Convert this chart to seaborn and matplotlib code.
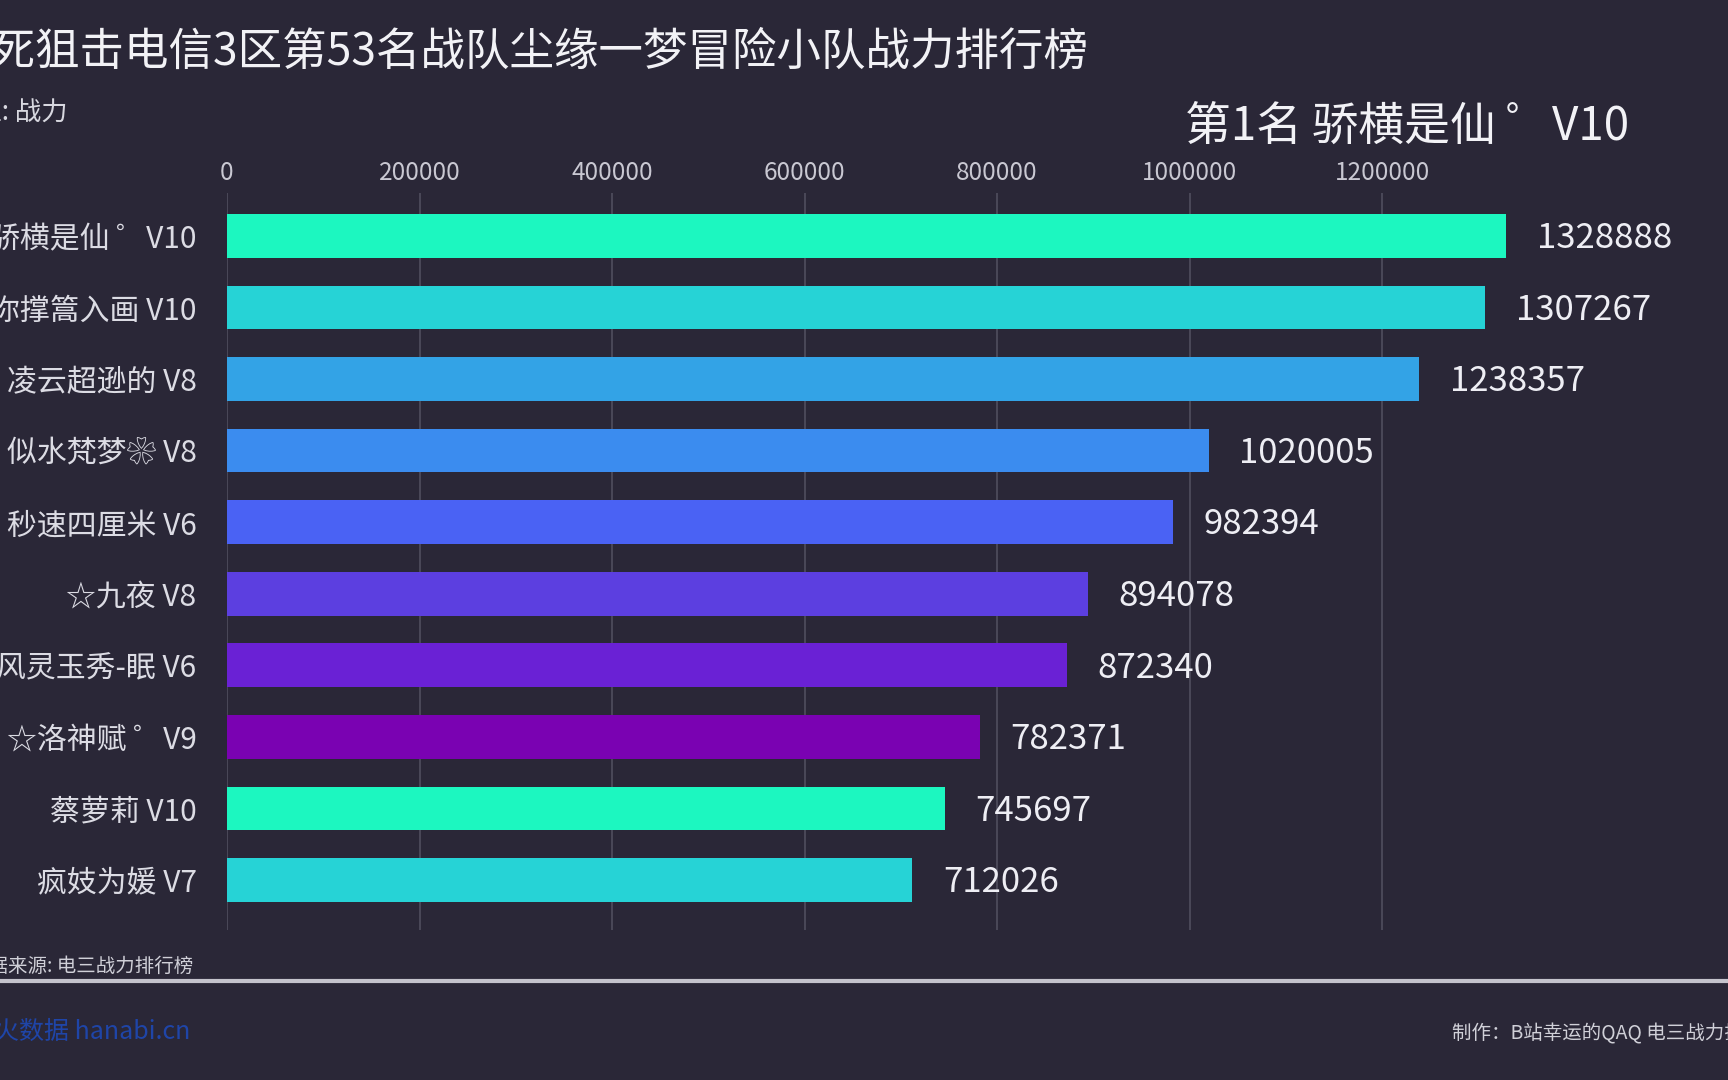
import matplotlib
matplotlib.use("Agg")
import matplotlib.pyplot as plt
import seaborn as sns
import pandas as pd

names = ["骄横是仙 ゜V10", "你撑篙入画 V10", "凌云超逊的 V8", "似水梵梦❀ V8", "秒速四厘米 V6",
         "☆九夜 V8", "风灵玉秀-眠 V6", "☆洛神赋 ゜V9", "蔡萝莉 V10", "疯妓为媛 V7"]
power = [1328888, 1307267, 1238357, 1020005, 982394, 894078, 872340, 782371, 745697, 712026]
bar_colors = ["#1cf7c0", "#26d3d6", "#33a3e6", "#3b8cef", "#4a62f4",
              "#5c3fe0", "#6a21d5", "#7a02b2", "#1cf7c0", "#26d3d6"]
xticks = [0, 200000, 400000, 600000, 800000, 1000000, 1200000]

title = "生死狙击电信3区第53名战队尘缘一梦冒险小队战力排行榜"
unit = "单位: 战力"
leader = "第1名 骄横是仙 ゜V10"
source = "数据来源: 电三战力排行榜"
credit = "制作：B站幸运的QAQ 电三战力排行榜"

bg = "#2a2737"
df = pd.DataFrame({"name": names, "power": power})

sns.set_theme(style="dark")
plt.rcParams['font.family'] = ['Noto Sans CJK SC', 'DejaVu Sans']

fig = plt.figure(figsize=(17.28, 10.8), dpi=100, facecolor=bg)
ax = fig.add_axes([0.1314, 0.1389, 0.8356, 0.6824])
ax.set_facecolor(bg)

sns.barplot(data=df, y="name", x="power", hue="name", palette=bar_colors,
            legend=False, width=0.61, saturation=1, linewidth=0, ax=ax, zorder=3)

ax.set_xlim(0, 1500000)
ax.set_ylim(9.70, -0.60)
ax.set_xticks(xticks)
ax.set_xticklabels([str(t) for t in xticks])
ax.xaxis.tick_top()
ax.tick_params(axis="x", length=0, pad=5, labelsize=17.5, labelcolor="#c9c8d2")
ax.tick_params(axis="y", length=0, pad=22, labelsize=21.5, labelcolor="#dcdce4")
ax.grid(axis="x", color="#4d4b5b", linewidth=1.3, zorder=0)
ax.grid(axis="y", visible=False)
ax.set_xlabel("")
ax.set_ylabel("")
for s in ax.spines.values():
    s.set_visible(False)

# value labels to the right of each bar
for i, v in enumerate(power):
    ax.annotate(str(v), xy=(v, i), xytext=(22, -2), textcoords="offset points",
                va="center", ha="left", fontsize=25, color="#eeeef4")

fig.text(1089 / 1728, 1 - 52 / 1080, title, ha="right", va="center",
         fontsize=32, color="#f2f2f6")
fig.text(68 / 1728, 1 - 112 / 1080, unit, ha="right", va="center",
         fontsize=19, color="#d8d8e0")
fig.text(1629 / 1728, 1 - 127 / 1080, leader, ha="right", va="center",
         fontsize=33, color="#f2f2f6")
fig.text(193 / 1728, 1 - 966 / 1080, source, ha="right", va="center",
         fontsize=14, color="#d0d0d8")
fig.text(1452 / 1728, 1 - 1034 / 1080, credit, ha="left", va="center",
         fontsize=14, color="#d0d0d8")
fig.text(190 / 1728, 1 - 1032 / 1080, "花火数据 hanabi.cn", ha="right", va="center",
         fontsize=18, color="#1f45a8")
fig.add_artist(plt.Line2D([0, 1], [1 - 981 / 1080] * 2, color="#c4c3cc",
                          linewidth=3, transform=fig.transFigure))

fig.savefig("out.png", dpi=100, facecolor=bg)
